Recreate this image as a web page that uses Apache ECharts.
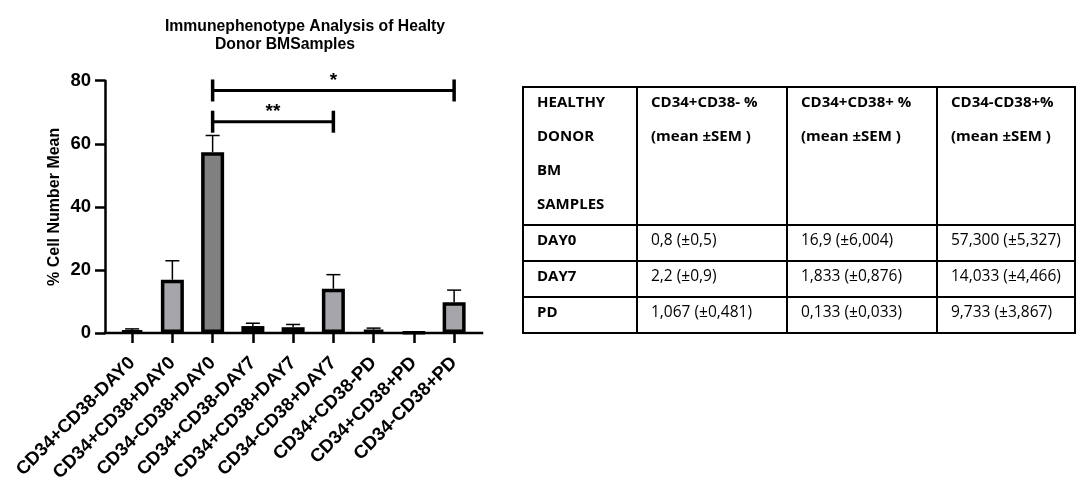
<!DOCTYPE html>
<html>
<head>
<meta charset="utf-8">
<script src="https://cdn.jsdelivr.net/npm/echarts@6/dist/echarts.min.js"></script>
<style>
  html, body { margin: 0; padding: 0; background: #fff; }
  #chart { position: absolute; left: 0; top: 0; width: 1076px; height: 478px; }
  #tbl {
    position: absolute; left: 522px; top: 86px;
    border-collapse: collapse; table-layout: fixed;
    font-family: 'Open Sans', 'Noto Sans', sans-serif; font-size: 15.5px; color: #000;
  }
  #tbl td { border: 2px solid #000; padding: 0 0 0 13px; vertical-align: top; line-height: 34px; overflow: hidden; }
  #tbl td .cell { position: relative; top: -4px; white-space: nowrap; }
  #tbl .b { font-weight: bold; font-size: 15px; }
</style>
</head>
<body>
<div id="chart"></div>
<table id="tbl"></table>
<script>
// Bar chart data: mean % of cells per phenotype and time point, with SEM
const categories = [
  'CD34+CD38-DAY0', 'CD34+CD38+DAY0', 'CD34-CD38+DAY0',
  'CD34+CD38-DAY7', 'CD34+CD38+DAY7', 'CD34-CD38+DAY7',
  'CD34+CD38-PD', 'CD34+CD38+PD', 'CD34-CD38+PD'
];
const means = [0.8, 16.9, 57.3, 2.2, 1.833, 14.033, 1.067, 0.133, 9.733];
const sems  = [0.5, 6.004, 5.327, 0.9, 0.876, 4.466, 0.481, 0.033, 3.867];
const barFills = ['#a5a5aa', '#a5a5aa', '#808080', '#a5a5aa', '#a5a5aa', '#a5a5aa', '#a5a5aa', '#a5a5aa', '#a5a5aa'];

// Significance brackets between categories (indices) at a given height
const bracketFrom   = [2, 2];
const bracketTo     = [8, 5];
const bracketLevel  = [76.9, 67];
const bracketLabels = ['*', '**'];

// Y axis scale
const yMin = 0, yMax = 80, yStep = 20;

// Summary table
const tableHeader = [
  ['HEALTHY', 'DONOR', 'BM', 'SAMPLES'],
  ['CD34+CD38- %', '(mean \u00B1SEM )'],
  ['CD34+CD38+ %', '(mean \u00B1SEM )'],
  ['CD34-CD38+%', '(mean \u00B1SEM )']
];
const tableGroups = ['DAY0', 'DAY7', 'PD'];
const tableValues = [
  ['0,8 (\u00B10,5)', '16,9 (\u00B16,004)', '57,300 (\u00B15,327)'],
  ['2,2 (\u00B10,9)', '1,833 (\u00B10,876)', '14,033 (\u00B14,466)'],
  ['1,067 (\u00B10,481)', '0,133 (\u00B10,033)', '9,733 (\u00B13,867)']
];

const FONT = "'Liberation Sans', Arial, Helvetica, sans-serif";
const gridLeft = 112, gridTop = 80.7, gridWidth = 362.25, gridHeight = 252.3;
const yAxisOffset = 7;

const chart = echarts.init(document.getElementById('chart'), null, { renderer: 'canvas' });

const option = {
  animation: false,
  backgroundColor: '#fff',
  title: [
    { text: 'Immunephenotype Analysis of Healty', left: 300, top: 14, textAlign: 'center',
      textStyle: { fontFamily: FONT, fontWeight: 'bold', fontSize: 15.75, color: '#000' } },
    { text: 'Donor BMSamples', left: 280, top: 32, textAlign: 'center',
      textStyle: { fontFamily: FONT, fontWeight: 'bold', fontSize: 15.75, color: '#000' } }
  ],
  grid: {
    left: gridLeft, top: gridTop, width: gridWidth, height: gridHeight,
    containLabel: false, outerBoundsMode: 'none'
  },
  xAxis: {
    type: 'category',
    data: categories,
    axisLine: { show: false },
    axisTick: { show: true, alignWithLabel: true, length: 10, lineStyle: { color: '#000', width: 2.5 } },
    axisLabel: { interval: 0, rotate: 45, margin: 27, color: '#000', fontFamily: FONT, fontWeight: 'bold', fontSize: 18.5 },
    splitLine: { show: false }
  },
  yAxis: {
    type: 'value',
    min: yMin, max: yMax, interval: yStep,
    offset: yAxisOffset,
    name: '% Cell Number Mean',
    nameLocation: 'middle',
    nameGap: 42,
    nameTextStyle: { fontFamily: FONT, fontWeight: 'bold', fontSize: 16, color: '#000' },
    axisLine: { show: true, lineStyle: { color: '#000', width: 2.5 } },
    axisTick: { show: true, length: 10, lineStyle: { color: '#000', width: 2.5 } },
    axisLabel: { margin: 14, color: '#000', fontFamily: FONT, fontWeight: 'bold', fontSize: 18.5 },
    splitLine: { show: false }
  },
  series: [
    {
      type: 'bar',
      barWidth: 23,
      data: means.map((m, i) => ({ value: m, itemStyle: { color: barFills[i] } })),
      itemStyle: { borderColor: '#000', borderWidth: 3.5 },
      z: 2
    },
    {
      // SEM whiskers (upper only)
      type: 'custom',
      data: means.map((m, i) => [i, m, m + sems[i]]),
      encode: { x: 0, y: [1, 2] },
      clip: false,
      z: 3,
      renderItem(params, api) {
        const x = api.value(0);
        const lo = api.coord([x, api.value(1)]);
        const hi = api.coord([x, api.value(2)]);
        const half = 7;
        const st = { stroke: '#000', lineWidth: 1.5 };
        return {
          type: 'group',
          children: [
            { type: 'line', shape: { x1: lo[0], y1: lo[1], x2: hi[0], y2: hi[1] }, style: st },
            { type: 'line', shape: { x1: hi[0] - half, y1: hi[1], x2: hi[0] + half, y2: hi[1] }, style: st }
          ]
        };
      }
    },
    {
      // Significance brackets
      type: 'custom',
      data: bracketFrom.map((f, i) => [f, bracketTo[i], bracketLevel[i]]),
      encode: { x: [0, 1], y: 2 },
      clip: false,
      z: 4,
      renderItem(params, api) {
        const a = api.coord([api.value(0), api.value(2)]);
        const b = api.coord([api.value(1), api.value(2)]);
        const h = 11;
        const st = { stroke: '#000', lineWidth: 3 };
        return {
          type: 'group',
          children: [
            { type: 'line', shape: { x1: a[0], y1: a[1], x2: b[0], y2: b[1] }, style: st },
            { type: 'line', shape: { x1: a[0], y1: a[1] - h, x2: a[0], y2: a[1] + h }, style: { stroke: '#000', lineWidth: 3.5 } },
            { type: 'line', shape: { x1: b[0], y1: b[1] - h, x2: b[0], y2: b[1] + h }, style: { stroke: '#000', lineWidth: 3.5 } },
            { type: 'text', x: (a[0] + b[0]) / 2, y: a[1] - 10,
              style: { text: bracketLabels[params.dataIndex], fill: '#000', font: 'bold 19px ' + FONT,
                       textAlign: 'center', textVerticalAlign: 'middle' } }
          ]
        };
      }
    }
  ]
};

chart.setOption(option);

// Baseline of the x axis, running from the y axis to just past the last bar
const y0 = chart.convertToPixel({ yAxisIndex: 0 }, 0);
const axisX = gridLeft - yAxisOffset;
chart.setOption({
  graphic: [{
    type: 'line', z: 100,
    shape: { x1: axisX - 1.25, y1: y0, x2: gridLeft + gridWidth + 9, y2: y0 },
    style: { stroke: '#000', lineWidth: 2.5 }
  }]
});

// Summary table
(function buildTable() {
  const tbl = document.getElementById('tbl');
  const colWidths = [114, 150, 150, 138];
  const rowHeights = [138, 36, 35, 35];
  const cg = document.createElement('colgroup');
  colWidths.forEach(w => { const c = document.createElement('col'); c.style.width = w + 'px'; cg.appendChild(c); });
  tbl.appendChild(cg);

  const head = document.createElement('tr');
  head.style.height = rowHeights[0] + 'px';
  tableHeader.forEach(lines => {
    const td = document.createElement('td');
    td.innerHTML = '<div class="cell b">' + lines.join('<br>') + '</div>';
    head.appendChild(td);
  });
  tbl.appendChild(head);

  tableGroups.forEach((g, r) => {
    const tr = document.createElement('tr');
    tr.style.height = rowHeights[r + 1] + 'px';
    const th = document.createElement('td');
    th.innerHTML = '<div class="cell b">' + g + '</div>';
    tr.appendChild(th);
    tableValues[r].forEach(v => {
      const td = document.createElement('td');
      td.innerHTML = '<div class="cell">' + v + '</div>';
      tr.appendChild(td);
    });
    tbl.appendChild(tr);
  });
})();
</script>
</body>
</html>
